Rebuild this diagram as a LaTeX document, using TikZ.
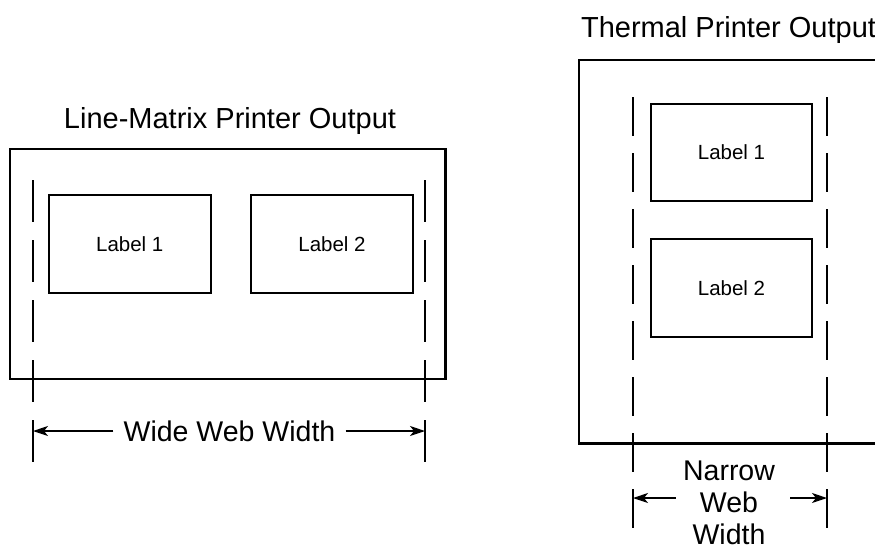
\documentclass[tikz,border=0pt]{standalone}
\usepackage{fontspec}
\setmainfont{Liberation Sans}
\usetikzlibrary{arrows.meta}
\begin{document}
\begin{tikzpicture}[x=1pt,y=-1pt,
  sheet/.style={line width=2.2pt},
  webedge/.style={line width=2.2pt},
  labelbox/.style={draw, line width=2.2pt, minimum width=162pt, minimum height=98pt, inner sep=0pt, font=\fontsize{20.5}{24}\selectfont},
  printertitle/.style={font=\fontsize{29}{33}\selectfont, inner sep=0pt, anchor=base},
  dimtext/.style={font=\fontsize{28.5}{32}\selectfont, align=center, inner sep=8pt},
  dimarrow/.style={line width=1.2pt, -{Stealth[length=15pt,width=10pt,inset=4pt]}}]
\useasboundingbox (0,0) rectangle (875,550);
\clip (0,0) rectangle (875,550);

% line-matrix printer: wide web
\node[printertitle] (lmtitle) at (230,128) {Line-Matrix Printer Output};
\draw[sheet] (10,149) rectangle (445.5,379);
\draw[webedge, dash pattern=on 42pt off 18pt] (33,180) -- (33,462);
\draw[webedge, dash pattern=on 42pt off 18pt] (425,180) -- (425,462);
\node[labelbox] (lmlabela) at (129.75,244) {Label 1};
\node[labelbox] (lmlabelb) at (332,244) {Label 2};
\coordinate (wideleft) at (33,431);
\coordinate (wideright) at (425,431);
\node[dimtext, inner sep=10pt] (wide) at (229.5,431) {Wide Web Width};
\draw[dimarrow] (wide) -- (wideleft);
\draw[dimarrow] (wide) -- (wideright);

% thermal printer: narrow web
\node[printertitle] (thtitle) at (728.5,37) {Thermal Printer Output};
\draw[sheet] (579,60) rectangle (900,443.5);
\draw[webedge, dash pattern=on 39pt off 17pt] (633,97) -- (633,528);
\draw[webedge, dash pattern=on 39pt off 17pt] (827,97) -- (827,528);
\node[labelbox, minimum width=161pt, minimum height=97pt] (thlabela) at (731.5,152.5) {Label 1};
\node[labelbox, minimum width=161pt] (thlabelb) at (731.5,288) {Label 2};
\coordinate (narrowleft) at (633,498);
\coordinate (narrowright) at (827,498);
\node[dimtext, inner sep=7pt] (narrow) at (729,503) {Narrow\\Web\\Width};
\draw[dimarrow] (narrow.west |- narrowleft) -- (narrowleft);
\draw[dimarrow] ([xshift=8pt]narrow.east |- narrowright) -- (narrowright);
\end{tikzpicture}
\end{document}
